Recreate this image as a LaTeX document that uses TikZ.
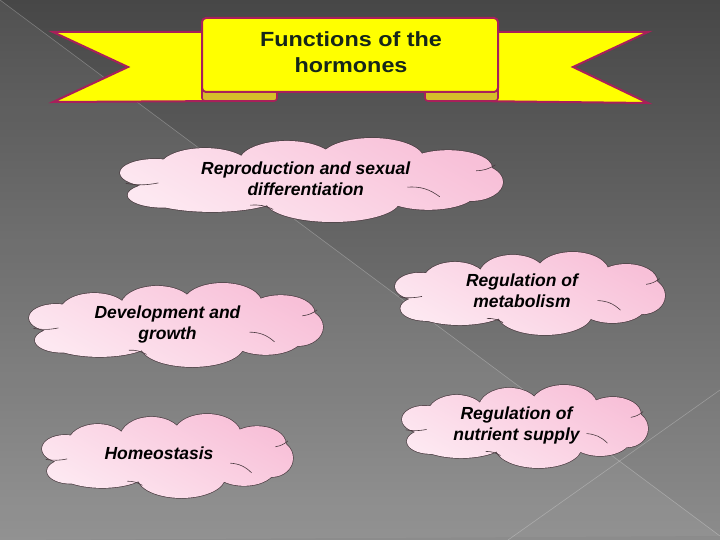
\documentclass[tikz,border=0pt]{standalone}
\usepackage{fontspec}
\setmainfont{Liberation Sans}
\newfontfamily\bannerfont[FakeStretch=1.14]{Liberation Sans}

\definecolor{bgtop}{HTML}{474747}
\definecolor{bgbottom}{HTML}{8C8C8C}
\definecolor{ribbonyellow}{HTML}{FFFF00}
\definecolor{ribbonfold}{HTML}{D6BE2A}
\definecolor{ribbonedge}{HTML}{A8205A}
\definecolor{titleink}{HTML}{15261A}
\definecolor{cloudpink}{HTML}{F8C0D8}
\definecolor{cloudlight}{HTML}{FDE8F1}
\definecolor{cloudedge}{HTML}{4A3A40}

\tikzset{
  ribbon/.style={fill=ribbonyellow, draw=ribbonedge, line width=2pt},
  fold/.style={fill=ribbonfold, draw=ribbonedge, line width=1.6pt, rounded corners=3pt},
  puffrim/.style={draw=cloudedge, line width=1.3pt},
  pufffill/.style={top color=cloudpink, bottom color=cloudlight, shading angle=-30},
  puffhook/.style={draw=cloudedge, line width=0.6pt},
  topic/.style={align=center, inner sep=0pt,
    font=\fontsize{17.5}{21}\selectfont\bfseries\itshape},
  bgline/.style={white, opacity=0.25, line width=0.6pt}
}

% puffs of a cloud in a box from -1 to 1
\def\puffs{
  (0,0) ellipse [x radius=0.75, y radius=0.55]
  (-0.556,-0.31) ellipse [x radius=0.235, y radius=0.45]
  (-0.128,-0.43) ellipse [x radius=0.25, y radius=0.5]
  (0.316,-0.5) ellipse [x radius=0.27, y radius=0.5]
  (0.713,-0.29) ellipse [x radius=0.23, y radius=0.42]
  (0.83,0.05) ellipse [x radius=0.17, y radius=0.45]
  (0.61,0.29) ellipse [x radius=0.25, y radius=0.42]
  (0.11,0.5) ellipse [x radius=0.35, y radius=0.5]
  (-0.52,0.31) ellipse [x radius=0.38, y radius=0.45]
  (-0.77,0.36) ellipse [x radius=0.19, y radius=0.3]
  (-0.817,-0.17) ellipse [x radius=0.183, y radius=0.33]
}
% cloud: centre x, centre y, half width, half height
\newcommand{\puffcloud}[4]{
  \begin{scope}[shift={(#1,#2)}, x=#3pt, y=-#4pt]
    \draw[puffrim] \puffs;
    \shade[pufffill] \puffs;
    \draw[puffhook] (-0.97,0.08) to[bend right=10] (-0.80,0.07);
    \draw[puffhook] (0.50,0.17) to[bend left=20] (0.67,0.40);
    \draw[puffhook] (0.86,-0.22) to[bend right=15] (0.96,-0.36);
    \draw[puffhook] (-0.32,0.60) to[bend left=15] (-0.20,0.70);
  \end{scope}
}

\begin{document}
\begin{tikzpicture}[x=1pt, y=-1pt]
\useasboundingbox (0,0) rectangle (720,540);
% background
\shade[top color=bgtop, bottom color=bgbottom] (0,0) rectangle (720,540);
\fill[white, opacity=0.06] (0,0) -- (720,536) -- (0,540) -- cycle;
\draw[bgline] (0,0) -- (720,536);
\draw[bgline] (720,390) -- (508,540);

% banner
\draw[ribbon] (53,32) -- (230,32) -- (230,101) -- (53,102) -- (128,67) -- cycle;
\draw[ribbon] (648,32) -- (470,32) -- (470,101) -- (648,103) -- (573,67) -- cycle;
\draw[fold] (202,86) rectangle (277,101);
\draw[fold] (425,86) rectangle (498,101);
\draw[ribbon, rounded corners=4pt] (202,18) rectangle (498,92);
\node[font=\bannerfont\bfseries\fontsize{20.5}{26}\selectfont, text=titleink, align=center]
  (title) at (351,52.5) {Functions of the\\hormones};

% clouds
\puffcloud{311.5}{180}{191.5}{42}
\puffcloud{530}{293.5}{135}{41.5}
\puffcloud{176}{325}{147}{42}
\puffcloud{525}{426.5}{123}{41.5}
\puffcloud{167.5}{456}{125.5}{42}

\node[topic] (repro) at (305.7,179) {Reproduction and sexual\\differentiation};
\node[topic] (metab) at (522,291) {Regulation of\\metabolism};
\node[topic] (growth) at (167.5,324) {Development and\\growth};
\node[topic] (nutrient) at (516.5,425) {Regulation of\\nutrient supply};
\node[topic] (homeo) at (159,453.6) {Homeostasis};
\end{tikzpicture}
\end{document}
